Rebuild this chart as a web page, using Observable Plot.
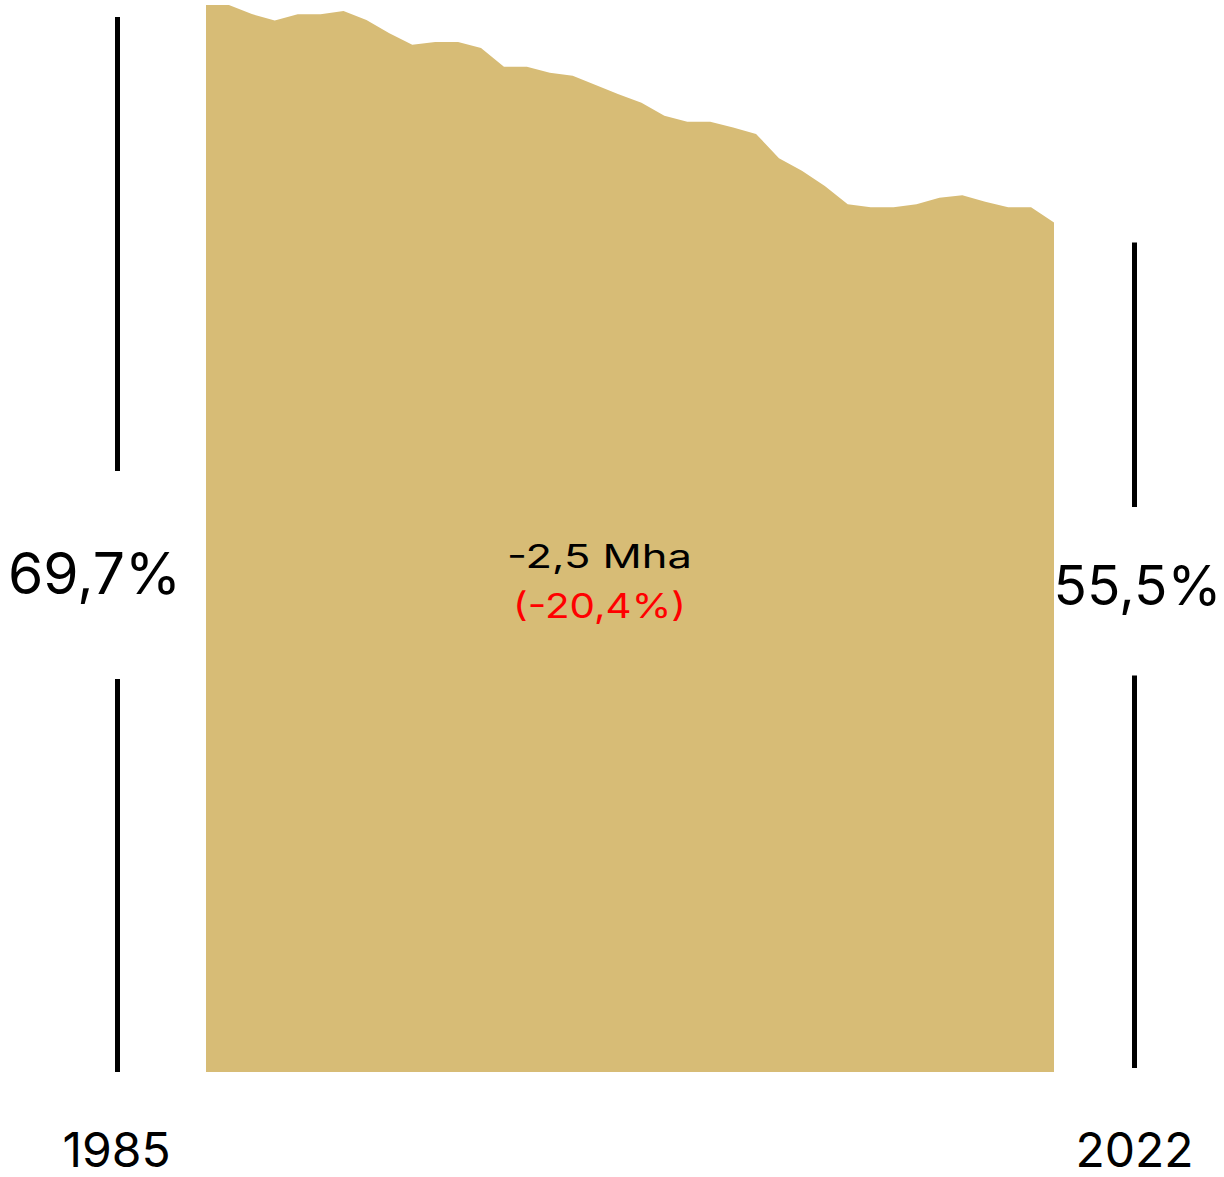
<!DOCTYPE html>
<html>
<head>
<meta charset="utf-8">
<script src="https://cdn.jsdelivr.net/npm/d3@7"></script>
<script src="https://cdn.jsdelivr.net/npm/@observablehq/plot@0.6"></script>
<style>
  html, body { margin: 0; padding: 0; background: #fff; }
  #chart svg { display: block; }
</style>
</head>
<body>
<div id="chart"></div>
<script>
const years = [1985, 1986, 1987, 1988, 1989, 1990, 1991, 1992, 1993, 1994,
  1995, 1996, 1997, 1998, 1999, 2000, 2001, 2002, 2003, 2004,
  2005, 2006, 2007, 2008, 2009, 2010, 2011, 2012, 2013, 2014,
  2015, 2016, 2017, 2018, 2019, 2020, 2021, 2022];
const shares = [69.7, 69.7, 69.11, 68.68, 69.09, 69.09, 69.31, 68.72, 67.85, 67.11,
  67.29, 67.29, 66.89, 65.67, 65.67, 65.28, 65.08, 64.48, 63.87, 63.32,
  62.47, 62.08, 62.08, 61.69, 61.28, 59.69, 58.88, 57.88, 56.68, 56.49,
  56.49, 56.68, 57.11, 57.27, 56.85, 56.49, 56.49, 55.5];
const endLabels = ["69,7%", "55,5%"];
const yearLabels = ["1985", "2022"];
const changeLabel = "-2,5 Mha";
const changePctLabel = "(-20,4%)";

const data = years.map((year, i) => ({year, share: shares[i]}));
const first = {year: years[0], share: shares[0], label: endLabels[0], yearLabel: yearLabels[0]};
const last = {year: years[years.length - 1], share: shares[shares.length - 1], label: endLabels[1], yearLabel: yearLabels[1]};
const mid = {year: (years[0] + years[years.length - 1]) / 2, share: shares[0] / 2};

const FILL = "#d7bc76";
const FONT = "Inter, 'Open Sans', sans-serif";

const chart = Plot.plot({
  width: 1224,
  height: 1177,
  marginLeft: 206,
  marginRight: 170,
  marginTop: 5,
  marginBottom: 105,
  x: {domain: [years[0], years[years.length - 1]], axis: null},
  y: {domain: [0, shares[0]], axis: null},
  style: {fontFamily: FONT, background: "white", overflow: "visible"},
  marks: [
    Plot.areaY(data, {x: "year", y: "share", fill: FILL, curve: "linear"}),
    // left bracket rules (y1 = top, y2 = bottom so insets apply correctly)
    Plot.ruleX([first], {x: "year", y1: "share", y2: 0, dx: -89, stroke: "#000", strokeWidth: 5, insetTop: 12, insetBottom: 601}),
    Plot.ruleX([first], {x: "year", y1: "share", y2: 0, dx: -89, stroke: "#000", strokeWidth: 5, insetTop: 674, insetBottom: 0}),
    // right bracket rules
    Plot.ruleX([last], {x: "year", y1: "share", y2: 0, dx: 80, stroke: "#000", strokeWidth: 5, insetTop: 20, insetBottom: 565}),
    Plot.ruleX([last], {x: "year", y1: "share", y2: 0, dx: 80, stroke: "#000", strokeWidth: 5, insetTop: 453, insetBottom: 4}),
    // value labels
    Plot.text([first], {x: "year", y: "share", text: "label", dx: -112, dy: 570, fontSize: 57, fill: "#000", textAnchor: "middle", lineAnchor: "middle", className: "end-label"}),
    Plot.text([last], {x: "year", y: "share", text: "label", dx: 83, dy: 365, fontSize: 55, fill: "#000", textAnchor: "middle", lineAnchor: "middle", className: "end-label"}),
    // year labels
    Plot.text([first], {x: "year", y: 0, text: "yearLabel", dx: -90, dy: 79, fontSize: 48, fill: "#000", textAnchor: "middle", lineAnchor: "middle"}),
    Plot.text([last], {x: "year", y: 0, text: "yearLabel", dx: 80, dy: 79, fontSize: 48, fill: "#000", textAnchor: "middle", lineAnchor: "middle"}),
    // change labels
    Plot.text([mid], {x: "year", y: "share", text: () => changeLabel, dx: -31, dy: 18, fontSize: 33, fill: "#000", textAnchor: "middle", lineAnchor: "middle", className: "mid-label-a"}),
    Plot.text([mid], {x: "year", y: "share", text: () => changePctLabel, dx: -31, dy: 68, fontSize: 34, fill: "#ff0000", textAnchor: "middle", lineAnchor: "middle", className: "mid-label-b"})
  ]
});
d3.select(chart).selectAll(".mid-label-a text").attr("textLength", 185).attr("lengthAdjust", "spacingAndGlyphs");
d3.select(chart).selectAll(".mid-label-b text").attr("textLength", 173).attr("lengthAdjust", "spacingAndGlyphs");
document.getElementById("chart").appendChild(chart);
</script>
</body>
</html>
